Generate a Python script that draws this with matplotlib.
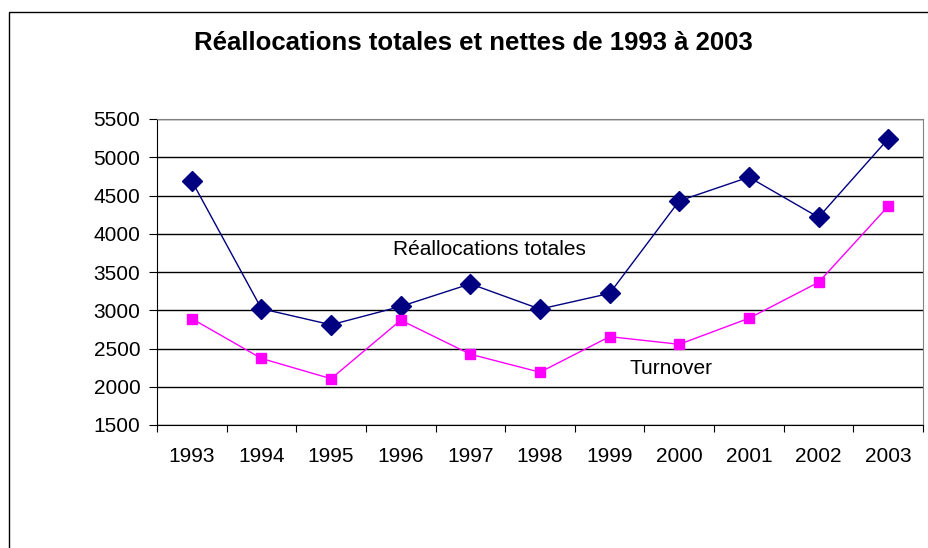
import matplotlib.pyplot as plt
from matplotlib.patches import Rectangle

plt.rcParams['font.family'] = ['Liberation Sans', 'DejaVu Sans']

years = ['1993', '1994', '1995', '1996', '1997', '1998',
         '1999', '2000', '2001', '2002', '2003']
totales = [4690, 3020, 2810, 3050, 3345, 3015, 3220, 4430, 4740, 4215, 5240]
turnover = [2890, 2370, 2105, 2870, 2425, 2190, 2655, 2555, 2895, 3365, 4360]
yticks = [1500, 2000, 2500, 3000, 3500, 4000, 4500, 5000, 5500]

fig = plt.figure(figsize=(9.29, 5.48), dpi=100)
ax = fig.add_axes([157 / 929, 1 - 425 / 548, 766 / 929, 306 / 548])

# outer chart frame (left and top edges visible)
fig.patches.append(Rectangle((9.5 / 929, -0.2), 1.2, 1.2 - 11.5 / 548,
                             transform=fig.transFigure, fill=False,
                             edgecolor='black', linewidth=1, zorder=0))

x = list(range(len(years)))
ax.plot(x, totales, color='#000080', linewidth=1, marker='D',
        markersize=10.5, markeredgecolor='#000080', zorder=3)
ax.plot(x, turnover, color='#FF00FF', linewidth=1, marker='s',
        markersize=7.5, markeredgecolor='#FF00FF', zorder=3)

ax.set_xlim(-0.5, len(years) - 0.5)
ax.set_ylim(1500, 5500)
ax.set_yticks(yticks)
ax.yaxis.grid(True, color='black', linewidth=1)
ax.set_axisbelow(True)

ax.set_xticks([i - 0.5 for i in range(len(years) + 1)])
ax.set_xticklabels([])
ax.set_xticks(x, minor=True)
ax.set_xticklabels(years, minor=True)
ax.tick_params(axis='x', which='major', length=5, direction='out', color='black')
ax.tick_params(axis='x', which='minor', length=0, pad=16, labelsize=15)
ax.tick_params(axis='y', length=6, direction='out', pad=6, labelsize=15)

ax.spines['left'].set_color('black')
ax.spines['bottom'].set_color('black')
ax.spines['top'].set_color('#808080')
ax.spines['right'].set_color('#808080')

ax.text(4.28, 3790, 'Réallocations totales', fontsize=15, ha='center', va='center')
ax.text(6.88, 2235, 'Turnover', fontsize=15, ha='center', va='center')

fig.text(473 / 929, 1 - 43 / 548, 'Réallocations totales et nettes de 1993 à 2003',
         fontsize=18.5, fontweight='bold', ha='center', va='center')

fig.savefig('out.png', dpi=100)
